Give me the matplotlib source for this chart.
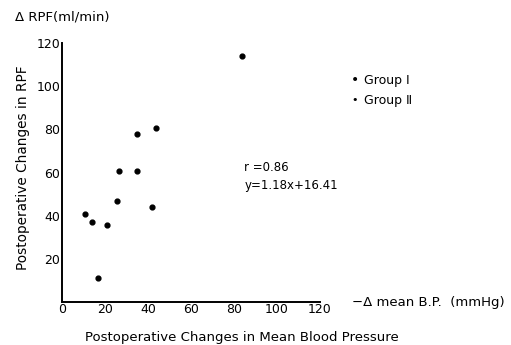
import matplotlib.pyplot as plt

# mean BP change (mmHg) vs RPF change (ml/min)
bp_change = [84, 35, 44, 26.5, 35, 11, 14, 21, 25.5, 42, 16.7]
rpf_change = [114, 78, 80.5, 60.6, 60.6, 40.7, 37, 35.6, 46.8, 44, 11]

x_ticks = [0, 20, 40, 60, 80, 100, 120]
y_ticks = [20, 40, 60, 80, 100, 120]

plt.rcParams['font.family'] = ['DejaVu Sans']

fig = plt.figure(figsize=(5.11, 3.45), dpi=100)
ax = fig.add_axes([0.121, 0.125, 0.505, 0.75])

ax.scatter(bp_change, rpf_change, s=12, color='black', zorder=3)

ax.set_xlim(0, 120)
ax.set_ylim(0, 120)
ax.set_xticks(x_ticks)
ax.set_yticks(y_ticks)
ax.tick_params(length=0, labelsize=9)
ax.tick_params(axis='x', pad=1)
ax.tick_params(axis='y', pad=1)
ax.spines['top'].set_visible(False)
ax.spines['right'].set_visible(False)
for s in ['left', 'bottom']:
    ax.spines[s].set_linewidth(1.4)

fig.text(0.045, 0.515, 'Postoperative Changes in RPF', fontsize=9.8, rotation=90,
         ha='center', va='center')
fig.text(0.03, 0.952, 'Δ RPF(ml/min)', fontsize=9.5, va='center')
fig.text(0.474, 0.022, 'Postoperative Changes in Mean Blood Pressure', fontsize=9.5,
         ha='center', va='center')
fig.text(0.689, 0.122, '−Δ mean B.P.  (mmHg)', fontsize=9.5, va='center')

# legend drawn as text, both groups use a dot
fig.text(0.687, 0.768, '•', fontsize=10, va='center')
fig.text(0.712, 0.768, 'Group Ⅰ', fontsize=9, va='center')
fig.text(0.687, 0.71, '•', fontsize=8, va='center')
fig.text(0.712, 0.71, 'Group Ⅱ', fontsize=9, va='center')

fig.text(0.478, 0.515, 'r =0.86', fontsize=8.5, va='center')
fig.text(0.478, 0.463, 'y=1.18x+16.41', fontsize=8.5, va='center')

fig.savefig('out.png', dpi=100)
